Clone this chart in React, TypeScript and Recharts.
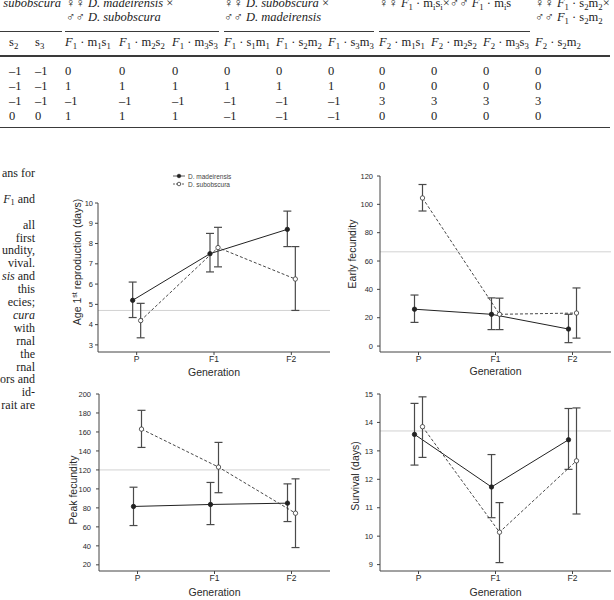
import React from 'react';
import { LineChart, Line, XAxis, YAxis, ErrorBar, ReferenceLine, Legend } from 'recharts';

// ---- chart data ----
const generations = ['P', 'F1', 'F2'];
const seriesNames = ['D. madeirensis', 'D. subobscura'];

// age at first reproduction (days)
const ageMad = [5.2, 7.5, 8.7];
const ageMadLow = [4.35, 6.6, 7.85];
const ageMadHigh = [6.1, 8.5, 9.6];
const ageSub = [4.2, 7.8, 6.25];
const ageSubLow = [3.35, 6.85, 4.7];
const ageSubHigh = [5.05, 8.8, 7.85];
const ageTicks = [3, 4, 5, 6, 7, 8, 9, 10];
const ageMean = 4.7;

// early fecundity
const earlyMad = [26, 22.4, 12];
const earlyMadLow = [16.7, 11.6, 2.4];
const earlyMadHigh = [36, 34, 22.4];
const earlySub = [104.5, 22.4, 23.3];
const earlySubLow = [95.3, 11.6, 5.6];
const earlySubHigh = [114, 33.8, 41];
const earlyTicks = [0, 20, 40, 60, 80, 100, 120];
const earlyMean = 66.5;

// peak fecundity
const peakMad = [81.5, 83.6, 85];
const peakMadLow = [61.4, 62.4, 65.6];
const peakMadHigh = [101.8, 106.8, 105.3];
const peakSub = [163, 123, 74.4];
const peakSubLow = [143.7, 96, 38.2];
const peakSubHigh = [182.8, 149, 110.6];
const peakTicks = [20, 40, 60, 80, 100, 120, 140, 160, 180, 200];
const peakMean = 120;

// survival (days)
const survMad = [13.58, 11.73, 13.39];
const survMadLow = [12.5, 10.65, 12.35];
const survMadHigh = [14.67, 12.87, 14.49];
const survSub = [13.85, 10.14, 12.65];
const survSubLow = [12.77, 9.07, 10.78];
const survSubHigh = [14.9, 11.18, 14.51];
const survTicks = [9, 10, 11, 12, 13, 14, 15];
const survMean = 13.7;

// ---- table on the page above the figure ----
const groupLine1 = ['♀♀ *D. madeirensis* ×', '♀♀ *D. subobscura* ×', '♀♀ *F*_1 · m_is_i×♂♂ *F*_1 · m_is', '♀♀ *F*_1 · s_2m_2×'];
const groupLine2 = ['♂♂ *D. subobscura*', '♂♂ *D. madeirensis*', '', '♂♂ *F*_1 · s_2m_2'];
const contrastCols = ['s_2', 's_3', '*F*_1 · m_1s_1', '*F*_1 · m_2s_2', '*F*_1 · m_3s_3', '*F*_1 · s_1m_1', '*F*_1 · s_2m_2', '*F*_1 · s_3m_3', '*F*_2 · m_1s_1', '*F*_2 · m_2s_2', '*F*_2 · m_3s_3', '*F*_2 · s_2m_2'];
const contrastRows = [
  [-1, -1, 0, 0, 0, 0, 0, 0, 0, 0, 0, 0],
  [-1, -1, 1, 1, 1, 1, 1, 1, 0, 0, 0, 0],
  [-1, -1, -1, -1, -1, -1, -1, -1, 3, 3, 3, 3],
  [0, 0, 1, 1, 1, -1, -1, -1, 0, 0, 0, 0],
];

// caption column cut off at the left edge
const captionLines = ['ans for', '', '*F*_1 and', '', 'all', 'first', 'undity,', 'vival.', '*sis* and', 'this', 'ecies;', '*cura*', 'with', 'rnal', 'the', 'rnal', 'ors and', 'id-', 'rait are'];

const SANS = '"Liberation Sans", Arial, Helvetica, sans-serif';
const SERIF = '"Liberation Serif", "Times New Roman", serif';
const INK = '#2a2a2a';

const COL_X = [9, 35, 65, 119, 172, 224, 276, 328, 379, 431, 483, 535];
const GROUP_X = [66, 224, 379, 535];
const ROW_Y = [70.7, 85.7, 100.7, 116];

function rich(s: string) {
  return s.split(/(\*[^*]+\*|_\w)/).filter(Boolean).map((t, i) => {
    if (t.startsWith('*')) return <i key={i}>{t.slice(1, -1)}</i>;
    if (t.startsWith('_'))
      return <span key={i} style={{ fontSize: '70%', position: 'relative', top: '0.3em' }}>{t.slice(1)}</span>;
    return <React.Fragment key={i}>{t}</React.Fragment>;
  });
}

const Txt = ({ x, y, right, size = 12.5, children }: any) => (
  <div
    style={{
      position: 'absolute',
      left: right ? undefined : x,
      right: right ? 614 - x : undefined,
      top: y - 8,
      lineHeight: '16px',
      fontSize: size,
      fontFamily: SERIF,
      whiteSpace: 'nowrap',
      color: '#1c1c1c',
    }}
  >
    {children}
  </div>
);

const Rule = ({ x1, x2, y, h = 1 }: any) => (
  <div style={{ position: 'absolute', left: x1, top: y - h / 2, width: x2 - x1, height: h, background: '#3a3a3a' }} />
);

const build = (mad: number[], madLow: number[], madHigh: number[], sub: number[], subLow: number[], subHigh: number[]) =>
  generations.map((gen, i) => ({
    gen,
    mad: mad[i],
    madErr: [mad[i] - madLow[i], madHigh[i] - mad[i]],
    sub: sub[i],
    subErr: [sub[i] - subLow[i], subHigh[i] - sub[i]],
  }));

// title drawn at a fixed spot inside the chart svg
const AxisTitle = ({ tx, ty, rot, children }: any) => (
  <text
    x={tx}
    y={ty}
    transform={rot ? `rotate(${rot} ${tx} ${ty})` : undefined}
    textAnchor="middle"
    dominantBaseline="central"
    fontSize={10.5}
    fill={INK}
    fontFamily={SANS}
  >
    {children}
  </text>
);

const LegendBox = (props: any) => (
  <div style={{ fontFamily: SANS, fontSize: 6.5, color: '#444' }}>
    {(props.payload || []).map((p: any, i: number) => {
      const dashed = p.value === seriesNames[1];
      return (
        <div key={i} style={{ display: 'flex', alignItems: 'center', height: 8 }}>
          <svg width={13} height={8}>
            <line x1={0} x2={12} y1={4} y2={4} stroke="#333" strokeWidth={0.8} strokeDasharray={dashed ? '2 1' : undefined} />
            <circle cx={6} cy={4} r={1.8} fill={dashed ? '#fff' : '#222'} stroke="#222" strokeWidth={0.7} />
          </svg>
          <span style={{ marginLeft: 2 }}>{p.value}</span>
        </div>
      );
    })}
  </div>
);

function Panel(props: any) {
  const { left, top, width, height, mTop, yDomain, yTicks, mean, rows, yTitle, titleX, titleY, genY, tickGap, legend } = props;
  const plotLeft = 40;
  const plotW = width - plotLeft - 4;
  const half = plotW / 6;
  const dodge = 4;
  return (
    <div style={{ position: 'absolute', left, top }}>
      <LineChart width={width} height={height} data={rows} margin={{ top: mTop, right: 4, bottom: 0, left: 12 }} style={{ fontFamily: SANS }}>
        <XAxis
          xAxisId="g"
          dataKey="gen"
          scale="point"
          padding={{ left: half, right: half }}
          height={32}
          tickSize={3}
          tickMargin={1}
          tick={{ fontSize: 8.5, fill: INK }}
          stroke="#444"
          label={<AxisTitle tx={plotLeft + plotW / 2} ty={genY - top}>Generation</AxisTitle>}
        />
        <XAxis xAxisId="m" dataKey="gen" scale="point" padding={{ left: half - dodge, right: half + dodge }} hide />
        <XAxis xAxisId="s" dataKey="gen" scale="point" padding={{ left: half + dodge, right: half - dodge }} hide />
        <YAxis
          type="number"
          domain={yDomain}
          ticks={yTicks}
          allowDataOverflow
          width={28}
          tickSize={3}
          tickMargin={tickGap}
          tick={{ fontSize: 7.5, fill: INK }}
          stroke="#444"
          label={<AxisTitle tx={titleX - left} ty={titleY - top} rot={-90}>{yTitle}</AxisTitle>}
        />
        <ReferenceLine xAxisId="g" y={mean} stroke="#d2d2d2" strokeWidth={1} />
        <Line
          xAxisId="m"
          dataKey="mad"
          name={seriesNames[0]}
          stroke="#222"
          strokeWidth={1}
          dot={{ r: 2.2, fill: '#222', stroke: '#222', strokeWidth: 0.8 }}
          isAnimationActive={false}
        >
          <ErrorBar dataKey="madErr" width={4} stroke="#4a4a4a" strokeWidth={1.2} direction="y" />
        </Line>
        <Line
          xAxisId="s"
          dataKey="sub"
          name={seriesNames[1]}
          stroke="#333"
          strokeWidth={0.9}
          strokeDasharray="3 2"
          dot={{ r: 2.2, fill: '#fff', stroke: '#333', strokeWidth: 0.8, strokeDasharray: '' }}
          isAnimationActive={false}
        >
          <ErrorBar dataKey="subErr" width={4} stroke="#4a4a4a" strokeWidth={1.2} direction="y" />
        </Line>
        {legend && (
          <Legend
            layout="vertical"
            verticalAlign="middle"
            align="center"
            content={<LegendBox />}
            wrapperStyle={{ left: 115, top: 7, width: 'auto' }}
          />
        )}
      </LineChart>
    </div>
  );
}

export default function App() {
  return (
    <div style={{ position: 'absolute', left: 0, top: 0, width: 614, height: 600, overflow: 'hidden', background: '#fff' }}>
      {/* table */}
      <Txt x={61} y={3} right>
        <i>D. subobscura</i>
      </Txt>
      {groupLine1.map((g, i) => (
        <Txt key={'g1' + i} x={GROUP_X[i]} y={3}>{rich(g)}</Txt>
      ))}
      {groupLine2.map((g, i) => (
        <Txt key={'g2' + i} x={GROUP_X[i]} y={17.3}>{rich(g)}</Txt>
      ))}
      <Rule x1={0} x2={62} y={31} />
      <Rule x1={65} x2={219} y={31} />
      <Rule x1={224} x2={374} y={31} />
      <Rule x1={379} x2={530} y={31} />
      {contrastCols.map((c, i) => (
        <Txt key={'c' + i} x={COL_X[i]} y={42}>{rich(c)}</Txt>
      ))}
      <Rule x1={0} x2={610} y={56} h={2} />
      {contrastRows.map((row, r) =>
        row.map((v, i) => (
          <Txt key={`v${r}-${i}`} x={COL_X[i]} y={ROW_Y[r]}>{v < 0 ? '–' + Math.abs(v) : String(v)}</Txt>
        ))
      )}
      <Rule x1={0} x2={610} y={127.5} h={1.5} />

      {/* caption fragment */}
      {captionLines.map((l, i) => (
        <Txt key={'t' + i} x={35} y={173 + i * 12.9} right size={12}>{rich(l)}</Txt>
      ))}

      <Panel
        left={58} top={165} width={276} height={219} mTop={38}
        yDomain={[2.65, 10]} yTicks={ageTicks} mean={ageMean}
        rows={build(ageMad, ageMadLow, ageMadHigh, ageSub, ageSubLow, ageSubHigh)}
        yTitle={<>Age 1<tspan dy={-3} fontSize={7}>st</tspan><tspan dy={3}> reproduction (days)</tspan></>}
        titleX={77} titleY={262} genY={372} tickGap={2} legend
      />
      <Panel
        left={340} top={168} width={275} height={216} mTop={8}
        yDomain={[-4.2, 120]} yTicks={earlyTicks} mean={earlyMean}
        rows={build(earlyMad, earlyMadLow, earlyMadHigh, earlySub, earlySubLow, earlySubHigh)}
        yTitle="Early fecundity" titleX={352} titleY={254} genY={371} tickGap={4}
      />
      <Panel
        left={59} top={386} width={275} height={217} mTop={8}
        yDomain={[13.5, 200]} yTicks={peakTicks} mean={peakMean}
        rows={build(peakMad, peakMadLow, peakMadHigh, peakSub, peakSubLow, peakSubHigh)}
        yTitle="Peak fecundity" titleX={73} titleY={490} genY={592} tickGap={5}
      />
      <Panel
        left={340} top={386} width={275} height={217} mTop={8}
        yDomain={[8.775, 15]} yTicks={survTicks} mean={survMean}
        rows={build(survMad, survMadLow, survMadHigh, survSub, survSubLow, survSubHigh)}
        yTitle="Survival (days)" titleX={355} titleY={476} genY={592} tickGap={4}
      />
    </div>
  );
}
